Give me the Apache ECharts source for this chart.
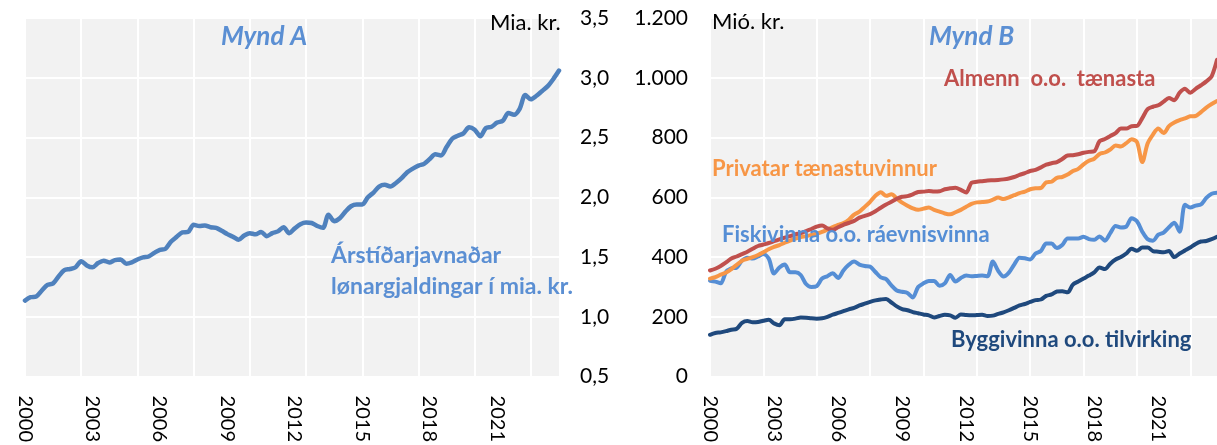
<!DOCTYPE html>
<html>
<head>
<meta charset="utf-8">
<script src="https://cdn.jsdelivr.net/npm/echarts@6/dist/echarts.min.js"></script>
<style>
  html, body { margin: 0; padding: 0; background: #fff; }
  #chart { width: 1217px; height: 445px; }
</style>
</head>
<body>
<div id="chart"></div>
<script>
// ársfjórðingar 2000K1 - 2023K4
var quarters = [];
for (var y = 2000; y <= 2023; y++) {
  for (var q = 1; q <= 4; q++) quarters.push(y + 'K' + q);
}

// Mynd A: árstíðarjavnaðar lønargjaldingar, mia. kr.
var lonargjaldingar = [
  1.136, 1.164, 1.17, 1.22, 1.267, 1.28, 1.34, 1.39, 1.40, 1.415,
  1.465, 1.43, 1.414, 1.45, 1.47, 1.455, 1.475, 1.48, 1.445, 1.456,
  1.48, 1.497, 1.505, 1.535, 1.561, 1.57, 1.63, 1.67, 1.706, 1.71,
  1.77, 1.76, 1.765, 1.75, 1.745, 1.72, 1.692, 1.67, 1.645, 1.68,
  1.70, 1.69, 1.71, 1.675, 1.70, 1.715, 1.75, 1.70, 1.74, 1.775,
  1.789, 1.785, 1.76, 1.745, 1.855, 1.80, 1.825, 1.88, 1.925, 1.94,
  1.94, 2.00, 2.04, 2.09, 2.105, 2.09, 2.12, 2.16, 2.21, 2.24,
  2.265, 2.28, 2.32, 2.36, 2.35, 2.42, 2.49, 2.515, 2.535, 2.585,
  2.565, 2.51, 2.58, 2.59, 2.625, 2.64, 2.705, 2.69, 2.74, 2.855,
  2.82, 2.85, 2.89, 2.93, 2.99, 3.06
];

// Mynd B: mió. kr.
var almenn = [
  355, 361, 370, 382, 395, 402, 410, 418, 428, 437,
  442, 447, 453, 459, 465, 470, 476, 480, 487, 494,
  502, 506, 496, 491, 500, 508, 514, 521, 532, 538,
  544, 553, 565, 576, 585, 595, 602, 604, 610, 618,
  619, 621, 619, 620, 627, 630, 632, 625, 616, 649,
  652, 654, 656, 657, 658, 660, 663, 668, 675, 681,
  688, 692, 700, 709, 714, 718, 728, 740, 741, 744,
  749, 752, 754, 788, 795, 805, 815, 830, 830, 838,
  839, 865, 895, 903, 908, 920, 932, 925, 950, 963,
  950, 963, 975, 988, 1005, 1060
];
var privatar = [
  328, 333, 341, 348, 360, 374, 388, 394, 400, 407,
  416, 426, 434, 440, 448, 455, 462, 467, 470, 474,
  478, 484, 492, 500, 508, 514, 525, 542, 552, 568,
  585, 605, 617, 605, 610, 596, 582, 572, 563, 558,
  562, 566, 558, 552, 546, 543, 550, 558, 568, 578,
  583, 584, 586, 592, 599, 594, 600, 607, 614, 619,
  627, 630, 631, 650, 652, 665, 668, 676, 688, 695,
  710, 722, 729, 745, 750, 760, 773, 770, 781, 794,
  785, 718, 780, 810, 830, 815, 838, 850, 858, 864,
  871, 872, 885, 900, 912, 922
];
var fiskivinna = [
  321, 318, 312, 350, 362, 365, 388, 398, 395, 402,
  410, 395, 345, 365, 375, 349, 349, 340, 310, 300,
  303, 328, 336, 346, 330, 355, 374, 385, 375, 370,
  368, 350, 332, 326, 305, 288, 284, 280, 265, 300,
  312, 320, 320, 304, 312, 340, 318, 330, 338, 336,
  337, 338, 336, 385, 354, 335, 348, 375, 398, 396,
  392, 412, 420, 445, 445, 430, 440, 462, 462, 462,
  468, 460, 458, 469, 455, 480, 504, 499, 502, 530,
  520, 485, 460, 455, 475, 482, 500, 515, 485, 575,
  566, 572, 576, 598, 612, 615
];
var byggivinna = [
  140, 146, 148, 152, 157, 160, 180, 186, 182, 183,
  187, 190, 178, 172, 192, 192, 194, 198, 197, 195,
  194, 195, 200, 207, 213, 219, 225, 230, 238, 244,
  250, 255, 258, 260, 248, 235, 226, 222, 216, 212,
  208, 205, 198, 203, 207, 205, 197, 208, 206, 205,
  206, 207, 203, 204, 210, 215, 222, 230, 238, 243,
  250, 256, 258, 270, 275, 285, 286, 282, 308, 318,
  328, 338, 349, 365, 360, 378, 392, 400, 412, 428,
  421, 432, 432, 420, 418, 416, 420, 400, 412, 422,
  432, 444, 452, 454, 460, 468
];

var FONT = 'Lato, "Open Sans", sans-serif';
var BLUE_TXT = '#5b8fd3';

function xAxisFor(gridIndex) {
  return {
    type: 'category',
    gridIndex: gridIndex,
    data: quarters,
    boundaryGap: false,
    axisLine: { show: false },
    axisTick: { show: false },
    axisLabel: {
      interval: function (idx) { return idx % 12 === 0; },
      formatter: function (v) { return v.slice(0, 4); },
      rotate: -90,
      margin: 19,
      color: '#000',
      fontFamily: FONT,
      fontSize: 20
    },
    splitLine: {
      show: true,
      interval: function (idx) { return idx % 10 === 0; },
      lineStyle: { color: '#ffffff', width: 2 }
    }
  };
}

function lineSeries(name, data, color, width, xi, yi) {
  return {
    name: name,
    type: 'line',
    xAxisIndex: xi,
    yAxisIndex: yi,
    data: data,
    smooth: 0.3,
    symbol: 'none',
    lineStyle: { color: color, width: width, cap: 'round', join: 'round' },
    itemStyle: { color: color }
  };
}

function txt(x, y, text, color, size, weight, style) {
  return {
    type: 'text',
    left: x,
    top: y,
    z: 100,
    style: {
      text: text,
      fill: color,
      font: (style || 'normal') + ' ' + (weight || 'normal') + ' ' + size + 'px ' + FONT
    }
  };
}

var chart = echarts.init(document.getElementById('chart'));
var option = {
  backgroundColor: '#fff',
  animation: false,
  grid: [
    { left: 25, top: 18, width: 534, height: 360, show: true, backgroundColor: '#f2f2f2', borderWidth: 0 },
    { left: 710, top: 18, width: 510, height: 360, show: true, backgroundColor: '#f2f2f2', borderWidth: 0 }
  ],
  xAxis: [xAxisFor(0), xAxisFor(1)],
  yAxis: [
    {
      type: 'value', gridIndex: 0, position: 'right',
      min: 0.5, max: 3.5, interval: 0.5,
      axisLine: { show: false }, axisTick: { show: false },
      axisLabel: {
        margin: 21, color: '#000', fontFamily: FONT, fontSize: 21,
        formatter: function (v) { return v.toFixed(1).replace('.', ','); }
      },
      splitLine: { lineStyle: { color: '#ffffff', width: 2 } }
    },
    {
      type: 'value', gridIndex: 1, position: 'left',
      min: 0, max: 1200, interval: 200,
      axisLine: { show: false }, axisTick: { show: false },
      axisLabel: {
        margin: 22, color: '#000', fontFamily: FONT, fontSize: 21,
        formatter: function (v) { return String(v).replace(/\B(?=(\d{3})+(?!\d))/g, '.'); }
      },
      splitLine: { lineStyle: { color: '#ffffff', width: 2 } }
    }
  ],
  series: [
    lineSeries('Lønargjaldingar', lonargjaldingar, '#4f81bd', 4.5, 0, 0),
    lineSeries('Byggivinna o.o. tilvirking', byggivinna, '#1f497d', 4, 1, 1),
    lineSeries('Fiskivinna o.o. ráevnisvinna', fiskivinna, '#558ed5', 4, 1, 1),
    lineSeries('Privatar tænastuvinnur', privatar, '#f79646', 4, 1, 1),
    lineSeries('Almenn o.o. tænasta', almenn, '#c0504d', 4, 1, 1)
  ],
  graphic: [
    txt(490, 12, 'Mia. kr.', '#000', 22),
    txt(712, 11, 'Mió. kr.', '#000', 22),
    txt(221, 24, 'Mynd A', BLUE_TXT, 26, 'bold', 'italic'),
    txt(929, 24, 'Mynd B', BLUE_TXT, 26, 'bold', 'italic'),
    txt(331, 244, 'Árstíðarjavnaðar', BLUE_TXT, 23, 'bold'),
    txt(331, 275, 'lønargjaldingar í mia. kr.', BLUE_TXT, 23, 'bold'),
    txt(944, 68, 'Almenn  o.o.  tænasta', '#c0504d', 22, 'bold'),
    txt(712, 158, 'Privatar tænastuvinnur', '#f79646', 22, 'bold'),
    txt(722, 224, 'Fiskivinna o.o. ráevnisvinna', '#558ed5', 22, 'bold'),
    txt(951, 329, 'Byggivinna o.o. tilvirking', '#1f497d', 22, 'bold')
  ]
};
chart.setOption(option);
</script>
</body>
</html>
